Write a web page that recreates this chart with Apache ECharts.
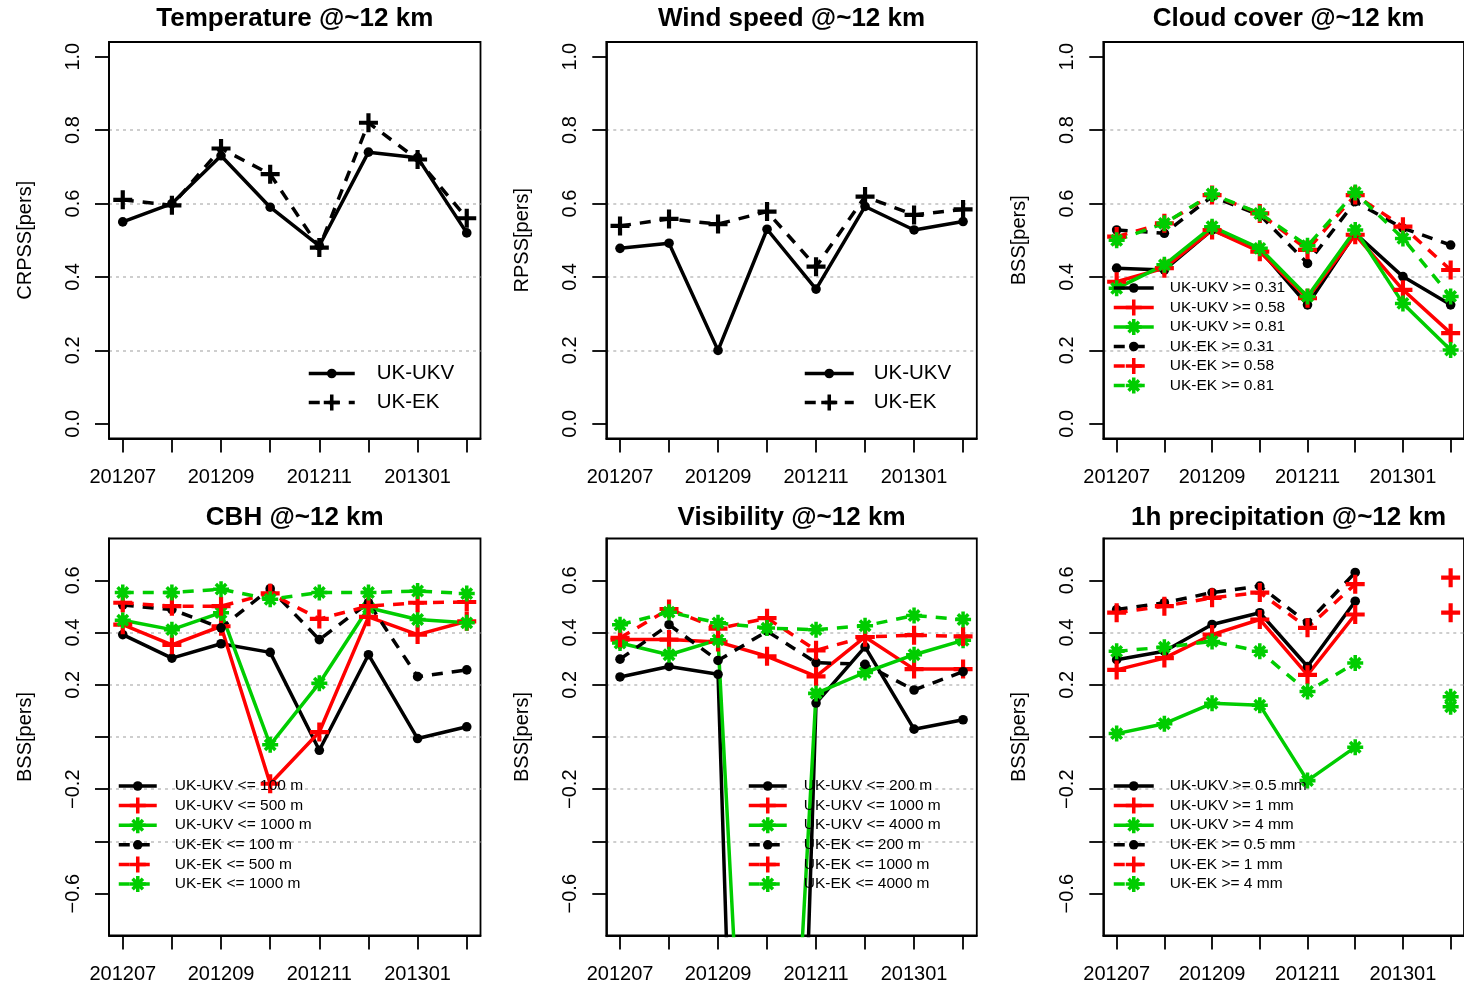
<!DOCTYPE html>
<html><head><meta charset="utf-8">
<script src="https://cdn.jsdelivr.net/npm/echarts@6/dist/echarts.min.js"></script>
<style>html,body{margin:0;padding:0;background:#fff}#c{width:1464px;height:987px}</style>
</head><body><div id="c"></div>
<script>
// ---------- data ----------
const months = ['201207','201208','201209','201210','201211','201212','201301','201302'];
const monthLabelIdx = [1,3,5,7];

const tempUKV = [0.55, 0.60, 0.73, 0.59, 0.485, 0.74, 0.725, 0.52];
const tempEK  = [0.61, 0.595, 0.75, 0.68, 0.48, 0.82, 0.72, 0.56];

const windUKV = [0.478, 0.492, 0.20, 0.53, 0.367, 0.592, 0.528, 0.551];
const windEK  = [0.539, 0.558, 0.544, 0.578, 0.428, 0.619, 0.569, 0.584];

const cloudUKV031 = [0.424, 0.419, 0.528, 0.474, 0.324, 0.519, 0.401, 0.324];
const cloudUKV058 = [0.387, 0.424, 0.528, 0.469, 0.342, 0.515, 0.365, 0.247];
const cloudUKV081 = [0.369, 0.433, 0.537, 0.478, 0.347, 0.528, 0.328, 0.201];
const cloudEK031  = [0.528, 0.519, 0.619, 0.569, 0.437, 0.605, 0.533, 0.487];
const cloudEK058  = [0.510, 0.546, 0.623, 0.573, 0.474, 0.623, 0.537, 0.419];
const cloudEK081  = [0.500, 0.546, 0.626, 0.573, 0.485, 0.630, 0.505, 0.347];

const cbhUKV100  = [0.392, 0.302, 0.357, 0.324, -0.051, 0.315, -0.006, 0.039];
const cbhUKV500  = [0.430, 0.353, 0.424, -0.179, 0.019, 0.460, 0.392, 0.443];
const cbhUKV1000 = [0.447, 0.411, 0.476, -0.030, 0.206, 0.495, 0.450, 0.437];
const cbhEK100   = [0.505, 0.488, 0.418, 0.568, 0.373, 0.514, 0.231, 0.257];
const cbhEK500   = [0.514, 0.501, 0.501, 0.550, 0.452, 0.501, 0.514, 0.517];
const cbhEK1000  = [0.553, 0.553, 0.566, 0.527, 0.553, 0.553, 0.559, 0.549];

const visUKV200  = [0.23, 0.27, 0.24, -5.7, 0.13, 0.345, 0.03, 0.066];
const visUKV1000 = [0.373, 0.373, 0.364, 0.309, 0.232, 0.383, 0.26, 0.26];
const visUKV4000 = [0.36, 0.315, 0.372, -3.2, 0.167, 0.247, 0.315, 0.37];
const visEK200   = [0.298, 0.43, 0.293, 0.405, 0.285, 0.278, 0.18, 0.25];
const visEK1000  = [0.38, 0.49, 0.415, 0.455, 0.332, 0.383, 0.39, 0.385];
const visEK4000  = [0.43, 0.478, 0.437, 0.417, 0.411, 0.426, 0.465, 0.45];

const precUKV05 = [0.296, 0.328, 0.431, 0.476, 0.27, 0.52, null, null];
const precUKV1  = [0.257, 0.302, 0.392, 0.45, 0.238, 0.469, null, 0.476];
const precUKV4  = [0.013, 0.051, 0.129, 0.122, -0.167, -0.039, null, 0.116];
const precEK05  = [0.488, 0.514, 0.553, 0.578, 0.437, 0.63, null, null];
const precEK1   = [0.476, 0.501, 0.533, 0.553, 0.418, 0.585, null, 0.61];
const precEK4   = [0.328, 0.344, 0.366, 0.328, 0.174, 0.283, null, 0.154];

const topTicks = [0, 0.2, 0.4, 0.6, 0.8, 1.0];
const botTicks = [-0.6, -0.4, -0.2, 0, 0.2, 0.4, 0.6];
const botLabels = [-0.6, -0.2, 0.2, 0.4, 0.6];

// ---------- styles ----------
const FONT = 'Liberation Sans';
const BLACK = '#000000', RED = '#ff0000', GREEN = '#00cd00';
const SYM = {
  dot: 'path://M0,0M10,10M8,5A3,3,0,1,1,2,5A3,3,0,1,1,8,5Z',
  plus: 'path://M3.9,0H6.1V3.9H10V6.1H6.1V10H3.9V6.1H0V3.9H3.9Z',
  star: 'path://M3.9,0H6.1V3.9H10V6.1H6.1V10H3.9V6.1H0V3.9H3.9Z M9.03,7.47L7.47,9.03L0.97,2.53L2.53,0.97Z M2.53,9.03L0.97,7.47L7.47,0.97L9.03,2.53Z'
};
const SIZE = {dot: 16, plus: 19, star: 16};
const DASH = [11, 9];
const LW = 3.5;

const panels = [
  {title:'Temperature @~12 km', yName:'CRPSS[pers]', left:109, top:42, width:371.5, height:396.5, kind:'top',
   legend:{left:307, top:363, itemWidth:46, itemGap:8, font:20.5, pad:17},
   series:[['UK-UKV', tempUKV, BLACK, false, 'dot'], ['UK-EK', tempEK, BLACK, true, 'plus']]},
  {title:'Wind speed @~12 km', yName:'RPSS[pers]', left:606.3, top:42, width:370.5, height:396.5, kind:'top',
   legend:{left:803, top:363, itemWidth:49, itemGap:8, font:20.5, pad:15},
   series:[['UK-UKV', windUKV, BLACK, false, 'dot'], ['UK-EK', windEK, BLACK, true, 'plus']]},
  {title:'Cloud cover @~12 km', yName:'BSS[pers]', left:1103.3, top:42, width:370.5, height:396.5, kind:'top',
   legend:{left:1112, top:280, itemWidth:40, itemGap:3.5, font:15.5, pad:11},
   series:[['UK-UKV >= 0.31', cloudUKV031, BLACK, false, 'dot'], ['UK-UKV >= 0.58', cloudUKV058, RED, false, 'plus'],
           ['UK-UKV >= 0.81', cloudUKV081, GREEN, false, 'star'], ['UK-EK >= 0.31', cloudEK031, BLACK, true, 'dot'],
           ['UK-EK >= 0.58', cloudEK058, RED, true, 'plus'], ['UK-EK >= 0.81', cloudEK081, GREEN, true, 'star']]},
  {title:'CBH @~12 km', yName:'BSS[pers]', left:109, top:538.5, width:371.5, height:397, kind:'bot',
   legend:{left:117, top:778, itemWidth:38, itemGap:3.6, font:15.5, pad:13},
   series:[['UK-UKV <= 100 m', cbhUKV100, BLACK, false, 'dot'], ['UK-UKV <= 500 m', cbhUKV500, RED, false, 'plus'],
           ['UK-UKV <= 1000 m', cbhUKV1000, GREEN, false, 'star'], ['UK-EK <= 100 m', cbhEK100, BLACK, true, 'dot'],
           ['UK-EK <= 500 m', cbhEK500, RED, true, 'plus'], ['UK-EK <= 1000 m', cbhEK1000, GREEN, true, 'star']]},
  {title:'Visibility @~12 km', yName:'BSS[pers]', left:606.3, top:538.5, width:370.5, height:397, kind:'bot',
   legend:{left:747, top:778, itemWidth:38, itemGap:3.6, font:15.5, pad:12},
   series:[['UK-UKV <= 200 m', visUKV200, BLACK, false, 'dot'], ['UK-UKV <= 1000 m', visUKV1000, RED, false, 'plus'],
           ['UK-UKV <= 4000 m', visUKV4000, GREEN, false, 'star'], ['UK-EK <= 200 m', visEK200, BLACK, true, 'dot'],
           ['UK-EK <= 1000 m', visEK1000, RED, true, 'plus'], ['UK-EK <= 4000 m', visEK4000, GREEN, true, 'star']]},
  {title:'1h precipitation @~12 km', yName:'BSS[pers]', left:1103.3, top:538.5, width:370.5, height:397, kind:'bot',
   legend:{left:1112, top:778, itemWidth:40, itemGap:3.6, font:15.5, pad:11},
   series:[['UK-UKV >= 0.5 mm', precUKV05, BLACK, false, 'dot'], ['UK-UKV >= 1 mm', precUKV1, RED, false, 'plus'],
           ['UK-UKV >= 4 mm', precUKV4, GREEN, false, 'star'], ['UK-EK >= 0.5 mm', precEK05, BLACK, true, 'dot'],
           ['UK-EK >= 1 mm', precEK1, RED, true, 'plus'], ['UK-EK >= 4 mm', precEK4, GREEN, true, 'star']]}
];

const fmtY = v => (v < -1e-9 ? '\u2212' : '') + Math.abs(v).toFixed(1);
const axisLineStyle = {color: BLACK, width: 1.8};

const option = {
  animation: false,
  backgroundColor: '#ffffff',
  textStyle: {fontFamily: FONT},
  title: [], grid: [], xAxis: [], yAxis: [], legend: [], series: []
};

panels.forEach((p, gi) => {
  const cx = p.left + p.width / 2;
  option.title.push({
    text: p.title, left: cx, top: p.kind === 'top' ? 6 : 505, textAlign: 'center', padding: 0,
    textStyle: {fontFamily: FONT, fontSize: 26, fontWeight: 'bold', color: BLACK}
  });
  option.grid.push({left: p.left, top: p.top, width: p.width, height: p.height,
    show: true, borderColor: BLACK, borderWidth: 1.8, backgroundColor: 'transparent', containLabel: false});
  option.xAxis.push({
    type: 'value', gridIndex: gi, min: 0.72, max: 8.28,
    axisLine: {show: true, onZero: false, lineStyle: axisLineStyle},
    axisTick: {show: true, length: 14, lineStyle: axisLineStyle, customValues: [1,2,3,4,5,6,7,8]},
    axisLabel: {show: true, margin: 29, customValues: monthLabelIdx, fontSize: 20, fontFamily: FONT, color: BLACK,
      formatter: v => months[Math.round(v) - 1]},
    splitLine: {show: false}
  });
  const isTop = p.kind === 'top';
  option.yAxis.push({
    type: 'value', gridIndex: gi,
    min: isTop ? -0.04 : -0.76, max: isTop ? 1.04 : 0.76,
    splitNumber: isTop ? 5 : 8, minInterval: 0.2, maxInterval: 0.2,
    name: p.yName, nameLocation: 'middle', nameGap: 74, nameRotate: 90,
    nameTextStyle: {fontSize: 20, fontFamily: FONT, color: BLACK},
    axisLine: {show: true, onZero: false, lineStyle: axisLineStyle},
    axisTick: {show: true, length: 14, lineStyle: axisLineStyle, customValues: isTop ? topTicks : botTicks},
    axisLabel: {show: true, rotate: 90, margin: 26, customValues: isTop ? topTicks : botLabels,
      fontSize: 20, fontFamily: FONT, color: BLACK, formatter: fmtY},
    splitLine: {show: true, showMinLine: false, showMaxLine: false,
      lineStyle: {color: '#bebebe', width: 1.5, type: [3, 4]}}
  });
  const names = [];
  p.series.forEach(s => {
    const [name, vals, color, dashed, sym] = s;
    const full = 'p' + gi + '|' + name;
    names.push(full);
    option.series.push({
      type: 'line', name: full, xAxisIndex: gi, yAxisIndex: gi,
      data: vals.map((v, i) => [i + 1, v == null ? '-' : v]),
      symbol: SYM[sym], symbolSize: SIZE[sym], showSymbol: true, showAllSymbol: true,
      connectNulls: false, clip: true, silent: true,
      lineStyle: {color: color, width: LW, type: dashed ? DASH : 'solid'},
      itemStyle: {color: color},
      emphasis: {disabled: true}
    });
  });
  const L = p.legend;
  option.legend.push({
    data: names, orient: 'vertical', left: L.left, top: L.top, padding: 0,
    itemWidth: L.itemWidth, itemHeight: 20, itemGap: L.itemGap, selectedMode: false,
    formatter: n => n.split('|')[1],
    lineStyle: {width: LW},
    textStyle: {fontSize: L.font, fontFamily: FONT, color: BLACK, padding: [0, 0, 0, L.pad], lineHeight: L.font}
  });
});

const chart = echarts.init(document.getElementById('c'), null, {renderer: 'canvas', width: 1464, height: 987});
chart.setOption(option);
</script>
</body></html>
